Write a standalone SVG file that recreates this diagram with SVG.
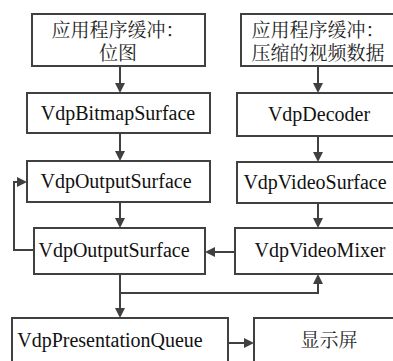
<svg xmlns="http://www.w3.org/2000/svg" width="393" height="361" viewBox="0 0 393 361">
<style>
.box{fill:#fff;stroke:#404040;stroke-width:2}
.t{font-size:20px;fill:#111;text-anchor:middle}
.c{font-size:19px;fill:#222;text-anchor:middle}
.ln{fill:none;stroke:#404040;stroke-width:2}
.ah{fill:#404040}
</style>
<rect width="393" height="361" fill="#fff"/>
<g id="app-bitmap"><rect class="box" x="32" y="14" width="173" height="52"/><text class="c" font-family="Noto Serif CJK SC, serif" x="118" y="37">应用程序缓冲：</text><text class="c" font-family="Noto Serif CJK SC, serif" x="118" y="60">位图</text></g>
<g id="app-video"><rect class="box" x="241" y="14" width="160" height="52"/><text class="c" font-family="Noto Serif CJK SC, serif" x="318" y="37">应用程序缓冲：</text><text class="c" font-family="Noto Serif CJK SC, serif" x="318" y="60">压缩的视频数据</text></g>
<g id="bitmap-surface"><rect class="box" x="27" y="93" width="183" height="40"/><text class="t" font-family="Liberation Serif, serif" x="118" y="120">VdpBitmapSurface</text></g>
<g id="decoder"><rect class="box" x="237" y="93" width="164" height="43"/><text class="t" font-family="Liberation Serif, serif" x="319" y="121">VdpDecoder</text></g>
<g id="output-surface-1"><rect class="box" x="27" y="161" width="183" height="41"/><text class="t" font-family="Liberation Serif, serif" x="116" y="188">VdpOutputSurface</text></g>
<g id="video-surface"><rect class="box" x="237" y="162" width="164" height="41"/><text class="t" font-family="Liberation Serif, serif" x="315" y="189">VdpVideoSurface</text></g>
<g id="output-surface-2"><rect class="box" x="34" y="228" width="171" height="46"/><text class="t" font-family="Liberation Serif, serif" x="114" y="257">VdpOutputSurface</text></g>
<g id="video-mixer"><rect class="box" x="235" y="228" width="166" height="46"/><text class="t" font-family="Liberation Serif, serif" x="320" y="257">VdpVideoMixer</text></g>
<g id="presentation-queue"><rect class="box" x="12" y="318" width="216" height="50"/><text class="t" font-family="Liberation Serif, serif" x="110" y="347">VdpPresentationQueue</text></g>
<g id="display"><rect class="box" x="254" y="318" width="150" height="50"/><text class="c" font-family="Noto Serif CJK SC, serif" x="329" y="347">显示屏</text></g>
<g id="connectors">
<path class="ln" d="M120,66 V84"/><polygon class="ah" points="115,83 125,83 120,93"/>
<path class="ln" d="M120,133 V152"/><polygon class="ah" points="115,151 125,151 120,161"/>
<path class="ln" d="M120,202 V219"/><polygon class="ah" points="115,218 125,218 120,228"/>
<path class="ln" d="M120,274 V309"/><polygon class="ah" points="115,308 125,308 120,318"/>
<path class="ln" d="M120,293 H318 V283"/><polygon class="ah" points="313,284 323,284 318,274"/>
<path class="ln" d="M318,66 V84"/><polygon class="ah" points="313,83 323,83 318,93"/>
<path class="ln" d="M318,136 V153"/><polygon class="ah" points="313,152 323,152 318,162"/>
<path class="ln" d="M318,203 V219"/><polygon class="ah" points="313,218 323,218 318,228"/>
<path class="ln" d="M235,252 H214"/><polygon class="ah" points="215,247 215,257 205,252"/>
<path class="ln" d="M34,250 H14 V182 H18"/><polygon class="ah" points="17,177 17,187 27,182"/>
<path class="ln" d="M228,343 H245"/><polygon class="ah" points="244,338 244,348 254,343"/>
</g>
</svg>
